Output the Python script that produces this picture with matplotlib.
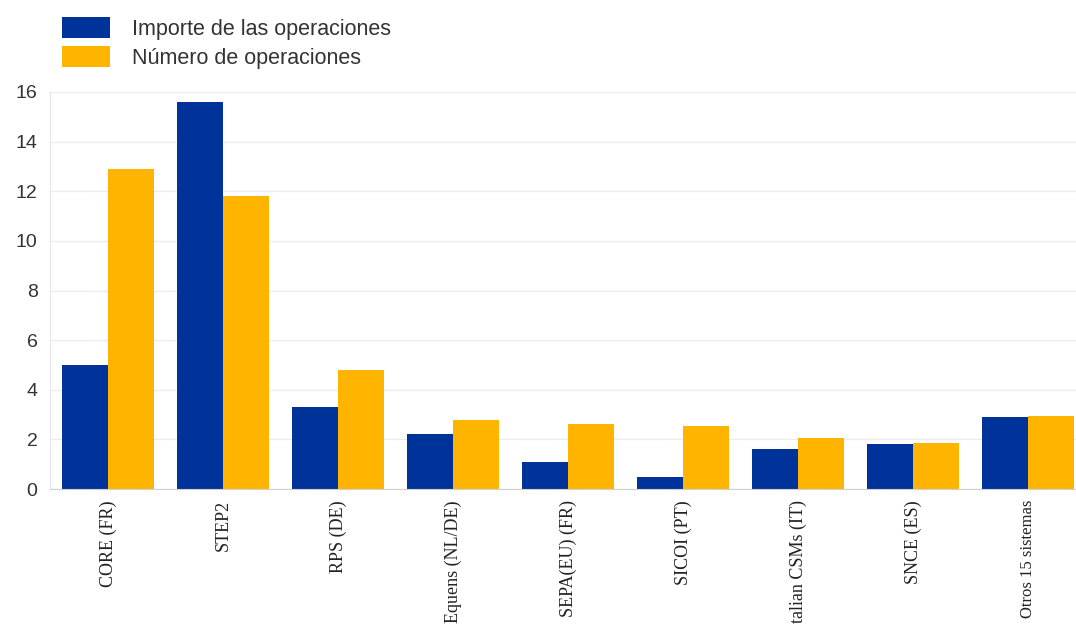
import matplotlib.pyplot as plt
import numpy as np

# datos
sistemas = ['CORE (FR)', 'STEP2', 'RPS (DE)', 'Equens (NL/DE)', 'SEPA(EU) (FR)',
            'SICOI (PT)', 'Italian CSMs (IT)', 'SNCE (ES)', 'Otros 15 sistemas']
importe = [5.0, 15.6, 3.3, 2.2, 1.1, 0.5, 1.6, 1.8, 2.9]
numero = [12.9, 11.8, 4.8, 2.8, 2.6, 2.55, 2.05, 1.85, 2.95]
yticks = [0, 2, 4, 6, 8, 10, 12, 14, 16]

azul = '#003399'
naranja = '#ffb400'

fig = plt.figure(figsize=(10.76, 6.24), dpi=100)
ax = fig.add_axes([50 / 1076, 1 - 489 / 624, 1 - 50 / 1076, (489 - 92) / 624])

x = np.arange(len(sistemas))
w = 0.4
ax.bar(x - w / 2, importe, w, color=azul, label='Importe de las operaciones', zorder=2)
ax.bar(x + w / 2, numero, w, color=naranja, label='Número de operaciones', zorder=2)

ax.set_xlim(-0.504, 8.417)
ax.set_ylim(0, 16)
ax.set_yticks(yticks)
ax.set_xticks(x)
ax.set_xticklabels(sistemas, rotation=90, va='top', ha='center',
                   family='Liberation Serif', fontsize=13, color='#222222')
ax.get_xticklabels()[-1].set_fontsize(12)
ax.tick_params(axis='x', length=0, pad=8)
ax.tick_params(axis='y', length=0, pad=9, labelsize=14, labelcolor='#333333')
for t in ax.get_yticklabels():
    t.set_family('Liberation Sans')

ax.grid(axis='y', color='#ececec', linewidth=1, zorder=0)
for s in ['top', 'right']:
    ax.spines[s].set_visible(False)
ax.spines['left'].set_color('#e6e6e6')
ax.spines['bottom'].set_color('#d0d0d0')

leg = ax.legend(loc='upper left', bbox_to_anchor=(62 / 1076, 1 - 17 / 624),
                bbox_transform=fig.transFigure, frameon=False,
                prop={'family': 'Liberation Sans', 'size': 15.5},
                handlelength=2.23, handleheight=1.12, labelspacing=0.28,
                handletextpad=1.0, borderaxespad=0, borderpad=0)
for t in leg.get_texts():
    t.set_color('#333333')

fig.savefig('out.png', dpi=100)
